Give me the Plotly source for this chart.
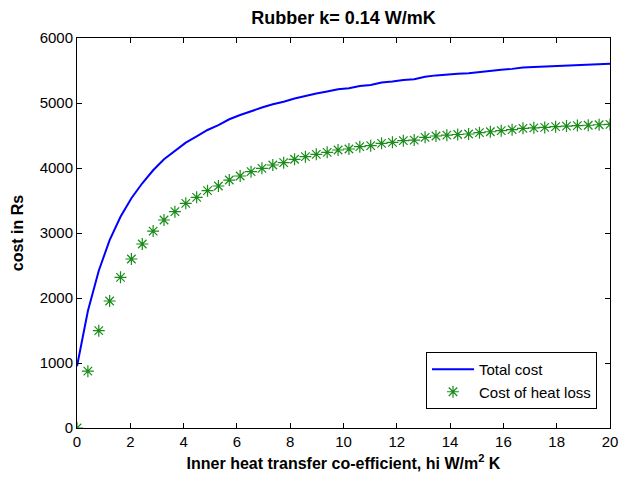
import numpy as np
import plotly.graph_objects as go

# inner heat transfer coefficient grid (50 samples from 0 to 20)
hi = np.linspace(0, 20, 50)

# cost of heat loss (Rs)
heat_loss = [0, 875, 1497, 1954, 2318, 2600, 2831, 3030, 3200, 3328,
             3457, 3549, 3651, 3723, 3815, 3877, 3943, 3995, 4046, 4082,
             4134, 4174, 4210, 4241, 4277, 4292, 4328, 4343, 4380, 4395,
             4420, 4430, 4472, 4492, 4505, 4515, 4523, 4543, 4558, 4575,
             4590, 4610, 4618, 4625, 4636, 4645, 4652, 4658, 4665, 4670]

# total cost (Rs)
total_cost = [950, 1800, 2420, 2890, 3250, 3535, 3765, 3965, 4135, 4265,
              4390, 4485, 4585, 4660, 4750, 4815, 4878, 4930, 4980, 5018,
              5068, 5108, 5145, 5176, 5210, 5228, 5262, 5278, 5315, 5330,
              5355, 5366, 5405, 5425, 5440, 5450, 5458, 5478, 5493, 5510,
              5525, 5545, 5553, 5560, 5572, 5580, 5587, 5593, 5600, 5605]

font = "Liberation Sans, Arial, sans-serif"
green = "#1a8c1a"

fig = go.Figure()
fig.add_trace(go.Scatter(x=hi, y=total_cost, mode="lines", name="Total cost",
                         line=dict(color="#0000ff", width=2)))
fig.add_trace(go.Scatter(x=hi, y=heat_loss, mode="markers", name="Cost of heat loss",
                         marker=dict(symbol="asterisk-open", size=10, color=green,
                                     line=dict(color=green, width=1.2))))

axis_common = dict(showgrid=False, zeroline=False, showline=True, mirror="ticks",
                   linecolor="black", linewidth=1, ticks="inside", ticklen=5,
                   tickcolor="black", automargin=False,
                   tickfont=dict(family=font, size=15, color="black"))

# page body adds an 8px offset, so the figure is 628x470
fig.update_layout(
    width=628, height=470,
    margin=dict(l=69, r=26, t=30, b=50),
    paper_bgcolor="white", plot_bgcolor="white",
    title=dict(text="<b>Rubber k= 0.14 W/mK</b>", xref="paper", x=0.5, xanchor="center",
               y=1 - 10 / 470, yanchor="middle", automargin=False,
               font=dict(family=font, size=18, color="black")),
    xaxis=dict(range=[0, 20], dtick=2, **axis_common,
               title=dict(text="<b>Inner heat transfer co-efficient, hi W/m<sup>2</sup> K</b>",
                          font=dict(family=font, size=16, color="black"), standoff=8)),
    yaxis=dict(range=[0, 6000], dtick=1000, **axis_common,
               title=dict(text="<b>cost in Rs</b>",
                          font=dict(family=font, size=16, color="black"), standoff=12)),
    legend=dict(x=0.9756, y=0.0487, xanchor="right", yanchor="bottom",
                bgcolor="white", bordercolor="black", borderwidth=1,
                font=dict(family=font, size=15, color="black"),
                tracegroupgap=0, itemwidth=42),
    showlegend=True,
)

fig.write_html("out.html")
